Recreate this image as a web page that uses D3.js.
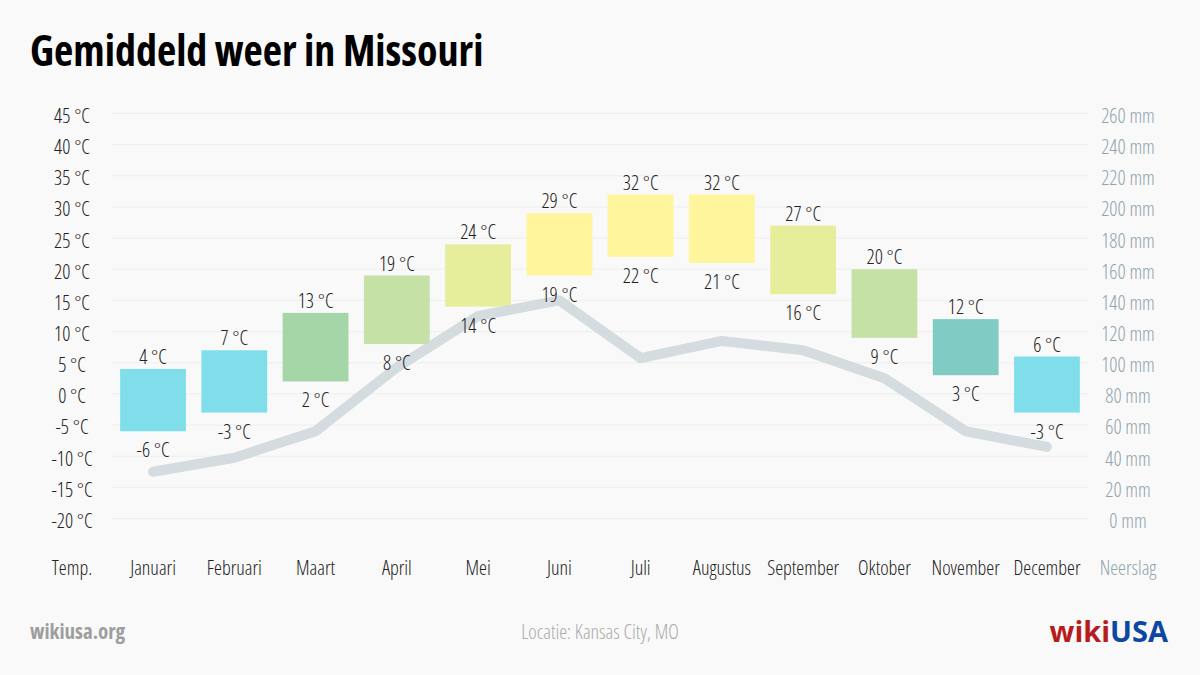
<!DOCTYPE html>
<html><head><meta charset="utf-8">
<script src="https://cdn.jsdelivr.net/npm/d3@7"></script>
<style>
html,body{margin:0;padding:0;background:#f9f9f9;}
svg{display:block;}
text{font-family:"Open Sans",sans-serif;font-stretch:75%;}
</style></head><body>
<svg id="c" width="1200" height="675"></svg>
<script>
const months = ["Januari","Februari","Maart","April","Mei","Juni","Juli","Augustus","September","Oktober","November","December"];
const tMax = [4,7,13,19,24,29,32,32,27,20,12,6];
const tMin = [-6,-3,2,8,14,19,22,21,16,9,3,-3];
const precip = [30,39,56,97,130,140,103,114,108,90,56,46];
const barColors = ["#80deea","#80deea","#a5d6a7","#c5e1a5","#e6ee9c","#fff59d","#fff59d","#fff59d","#e6ee9c","#c5e1a5","#80cbc4","#80deea"];
const tempTicks = [-20,-15,-10,-5,0,5,10,15,20,25,30,35,40,45];
const precipTicks = [0,20,40,60,80,100,120,140,160,180,200,220,240,260];

const svg = d3.select("#c");
const x = d3.scaleBand().domain(months).range([112.4,1087.6]).paddingInner(0.19).paddingOuter(0.095);
const yT = d3.scaleLinear().domain([-20,45]).range([518.5,113.5]);
const yP = d3.scaleLinear().domain([0,260]).range([518.5,113.5]);

// title
svg.append("text").attr("x",30).attr("y",66).attr("font-size",42).attr("font-weight",700)
  .attr("fill","#000").text("Gemiddeld weer in Missouri");

// gridlines
svg.append("g").selectAll("line").data(tempTicks).join("line")
  .attr("x1",112).attr("x2",1088).attr("y1",d=>yT(d)).attr("y2",d=>yT(d))
  .attr("stroke","#eeeeee").attr("stroke-width",1);

// left axis
const axL = d3.axisLeft(yT).tickValues(tempTicks).tickSize(0).tickFormat(d=>d+" °C");
const gL = svg.append("g").attr("transform","translate(72,2.5)").call(axL);
gL.select(".domain").remove();
gL.selectAll("text").attr("text-anchor","middle").attr("x",0).attr("font-size",20).attr("font-weight",300).attr("fill","#222").style("font-family",null);

// right axis
const axR = d3.axisRight(yP).tickValues(precipTicks).tickSize(0).tickFormat(d=>d+" mm");
const gR = svg.append("g").attr("transform","translate(1128,2.5)").call(axR);
gR.select(".domain").remove();
gR.selectAll("text").attr("text-anchor","middle").attr("x",0).attr("font-size",20).attr("font-weight",300).attr("fill","#90a4ae").style("font-family",null);

// bottom axis
const axB = d3.axisBottom(x).tickSize(0);
const gB = svg.append("g").attr("transform","translate(0,556)").call(axB);
gB.select(".domain").remove();
gB.selectAll("text").attr("font-size",20).attr("font-weight",300).attr("fill","#222").attr("dy","0.35em").attr("y",12).style("font-family",null);

svg.append("text").attr("x",72).attr("y",568).attr("dy","0.35em").attr("text-anchor","middle")
  .attr("font-size",20).attr("font-weight",300).attr("fill","#222").text("Temp.");
svg.append("text").attr("x",1128).attr("y",568).attr("dy","0.35em").attr("text-anchor","middle")
  .attr("font-size",20).attr("font-weight",300).attr("fill","#90a4ae").text("Neerslag");

// bars
const data = months.map((m,i)=>({m,hi:tMax[i],lo:tMin[i],p:precip[i],c:barColors[i]}));
svg.append("g").selectAll("rect").data(data).join("rect")
  .attr("x",d=>x(d.m)).attr("width",x.bandwidth())
  .attr("y",d=>yT(d.hi)).attr("height",d=>yT(d.lo)-yT(d.hi))
  .attr("fill",d=>d.c);

// precipitation line
const line = d3.line().x(d=>x(d.m)+x.bandwidth()/2).y(d=>yP(d.p));
svg.append("path").datum(data).attr("d",line).attr("fill","none")
  .attr("stroke","#cfd8dc").attr("stroke-width",10).attr("stroke-linecap","round").attr("stroke-linejoin","round")
  .attr("opacity",0.9);

// value labels
const lg = svg.append("g").attr("font-size",20).attr("font-weight",300).attr("fill","#222").attr("text-anchor","middle");
lg.selectAll("text.hi").data(data).join("text").attr("class","hi")
  .attr("x",d=>x(d.m)+x.bandwidth()/2).attr("y",d=>yT(d.hi)-12).attr("dy","0.35em").text(d=>d.hi+" °C");
lg.selectAll("text.lo").data(data).join("text").attr("class","lo")
  .attr("x",d=>x(d.m)+x.bandwidth()/2).attr("y",d=>yT(d.lo)+19).attr("dy","0.35em").text(d=>d.lo+" °C");

// footer
svg.append("text").attr("x",30).attr("y",639).attr("font-size",21).attr("font-weight",700).attr("fill","#9e9e9e").text("wikiusa.org");
svg.append("text").attr("x",600).attr("y",639).attr("text-anchor","middle").attr("font-size",20).attr("font-weight",300).attr("fill","#aaaaaa").text("Locatie: Kansas City, MO");
const logo = svg.append("text").attr("x",1168).attr("y",642).attr("text-anchor","end").attr("font-size",29).attr("font-weight",700).style("font-stretch","100%").style("font-family","'Open Sans',sans-serif");
logo.append("tspan").attr("fill","#b71c1c").text("wiki");
logo.append("tspan").attr("fill","#0d47a1").text("USA");
</script>
</body></html>
